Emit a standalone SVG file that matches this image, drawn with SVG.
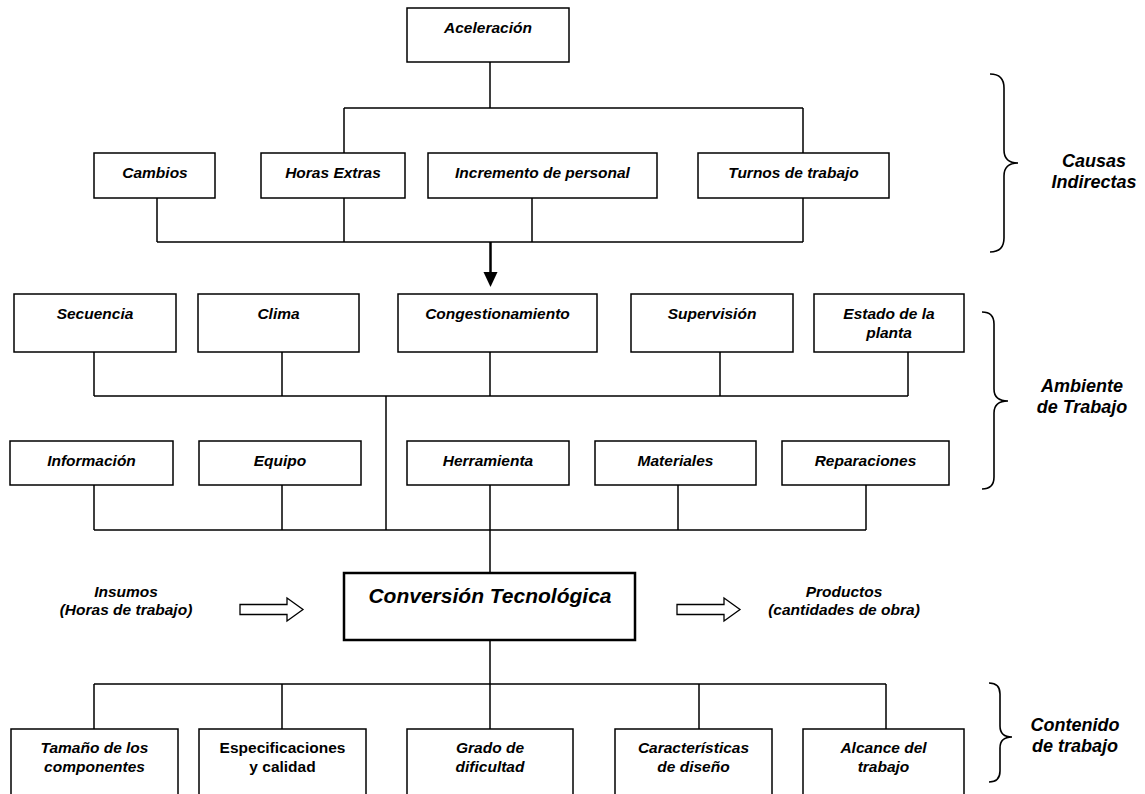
<svg xmlns="http://www.w3.org/2000/svg" width="1145" height="794" viewBox="0 0 1145 794">
<style>
.box{fill:#fff;stroke:#000;stroke-width:1.5}
.main{fill:#fff;stroke:#000;stroke-width:2.5}
.ln{fill:none;stroke:#000;stroke-width:1.5}
.br{fill:none;stroke:#000;stroke-width:1.6}
text{font-family:"Liberation Sans",Arial,sans-serif;font-weight:bold;font-style:italic;font-size:15.5px;text-anchor:middle;fill:#000}
.up{font-style:normal}
.grp{font-size:18px}
.big{font-size:21px}
.blk{fill:#fff;stroke:#000;stroke-width:1.3}
</style>
<defs>
<marker id="ah" markerWidth="14" markerHeight="14" refX="7" refY="14" orient="auto" markerUnits="userSpaceOnUse" viewBox="0 0 14 14">
<path d="M0,0 L14,0 L7,14 Z" fill="#000"/>
</marker>
</defs>
<g id="connectors">
<path class="ln" d="M490,62 V108 M344,108 H803 M344,108 V153 M803,108 V153"/>
<path class="ln" d="M157,198 V242 M344,198 V242 M532,198 V242 M803,198 V242 M157,242 H803"/>
<line x1="490.5" y1="242" x2="490.5" y2="272" stroke="#000" stroke-width="2.5"/>
<path d="M483.5,272 L497.5,272 L490.5,287 Z" fill="#000"/>
<path class="ln" d="M94,352 V396 M282,352 V396 M490,352 V396 M720,352 V396 M908,352 V396 M94,396 H908"/>
<path class="ln" d="M386,396 V530"/>
<path class="ln" d="M94,485 V530 M282,485 V530 M490,485 V530 M678,485 V530 M866,485 V530 M94,530 H866"/>
<path class="ln" d="M490,530 V573 M490,640 V684 M94,684 H886 M94,684 V729 M282,684 V729 M490,684 V729 M699,684 V729 M886,684 V729"/>
</g>
<g id="aceleracion"><rect class="box" x="407" y="8" width="162" height="54"/><text x="488" y="33">Aceleración</text></g>
<g id="cambios"><rect class="box" x="94" y="153" width="121" height="45"/><text x="155" y="178">Cambios</text></g>
<g id="horas-extras"><rect class="box" x="261" y="153" width="144" height="45"/><text x="333" y="178">Horas Extras</text></g>
<g id="incremento"><rect class="box" x="428" y="153" width="229" height="45"/><text x="542.5" y="178">Incremento de personal</text></g>
<g id="turnos"><rect class="box" x="698" y="153" width="191" height="45"/><text x="793.5" y="178">Turnos de trabajo</text></g>
<g id="secuencia"><rect class="box" x="14" y="294" width="162" height="58"/><text x="95" y="319">Secuencia</text></g>
<g id="clima"><rect class="box" x="198" y="294" width="161" height="58"/><text x="278.5" y="319">Clima</text></g>
<g id="congestionamiento"><rect class="box" x="398" y="294" width="199" height="58"/><text x="497.5" y="319">Congestionamiento</text></g>
<g id="supervision"><rect class="box" x="631" y="294" width="162" height="58"/><text x="712" y="319">Supervisión</text></g>
<g id="estado"><rect class="box" x="814" y="294" width="150" height="58"/><text x="889" y="319">Estado de la</text><text x="889" y="338">planta</text></g>
<g id="informacion"><rect class="box" x="10" y="441" width="163" height="44"/><text x="91.5" y="466">Información</text></g>
<g id="equipo"><rect class="box" x="199" y="441" width="162" height="44"/><text x="280" y="466">Equipo</text></g>
<g id="herramienta"><rect class="box" x="407" y="441" width="162" height="44"/><text x="488" y="466">Herramienta</text></g>
<g id="materiales"><rect class="box" x="595" y="441" width="161" height="44"/><text x="675.5" y="466">Materiales</text></g>
<g id="reparaciones"><rect class="box" x="782" y="441" width="167" height="44"/><text x="865.5" y="466">Reparaciones</text></g>
<g id="conversion"><rect class="main" x="344" y="573" width="291" height="67"/><text class="big" x="490" y="603">Conversión Tecnológica</text></g>
<g id="insumos"><text x="126" y="597">Insumos</text><text x="126" y="615">(Horas de trabajo)</text>
<path class="blk" d="M240,604.5 H287 V598 L303,609.5 L287,621 V614.5 H240 Z"/></g>
<g id="productos"><path class="blk" d="M677,604.5 H724 V598 L740,609.5 L724,621 V614.5 H677 Z"/>
<text x="844" y="597">Productos</text><text x="844" y="615">(cantidades de obra)</text></g>
<g id="tamano"><rect class="box" x="11" y="729" width="167" height="80"/><text x="94.5" y="753">Tamaño de los</text><text x="94.5" y="772">componentes</text></g>
<g id="especificaciones"><rect class="box" x="199" y="729" width="167" height="80"/><text class="up" x="282.5" y="753">Especificaciones</text><text class="up" x="282.5" y="772">y calidad</text></g>
<g id="grado"><rect class="box" x="407" y="729" width="166" height="80"/><text x="490" y="753">Grado de</text><text x="490" y="772">dificultad</text></g>
<g id="caracteristicas"><rect class="box" x="615" y="729" width="157" height="80"/><text x="693.5" y="753">Características</text><text x="693.5" y="772">de diseño</text></g>
<g id="alcance"><rect class="box" x="803" y="729" width="161" height="80"/><text x="883.5" y="753">Alcance del</text><text x="883.5" y="772">trabajo</text></g>
<g id="causas-indirectas"><path class="br" d="M990,74 Q1004,74 1004,88 L1004,150 Q1004,163 1018,163 Q1004,163 1004,176 L1004,238 Q1004,252 990,252"/>
<text class="grp" x="1094" y="167">Causas</text><text class="grp" x="1094" y="188">Indirectas</text></g>
<g id="ambiente-trabajo"><path class="br" d="M982,312 Q994,312 994,324 L994,389 Q994,401 1008,401 Q994,401 994,413 L994,477 Q994,489 982,489"/>
<text class="grp" x="1082" y="392">Ambiente</text><text class="grp" x="1082" y="413">de Trabajo</text></g>
<g id="contenido-trabajo"><path class="br" d="M989,683 Q1000,683 1000,694 L1000,726 Q1000,737 1012,737 Q1000,737 1000,748 L1000,771 Q1000,782 989,782"/>
<text class="grp" x="1075" y="731">Contenido</text><text class="grp" x="1075" y="752">de trabajo</text></g>
</svg>
